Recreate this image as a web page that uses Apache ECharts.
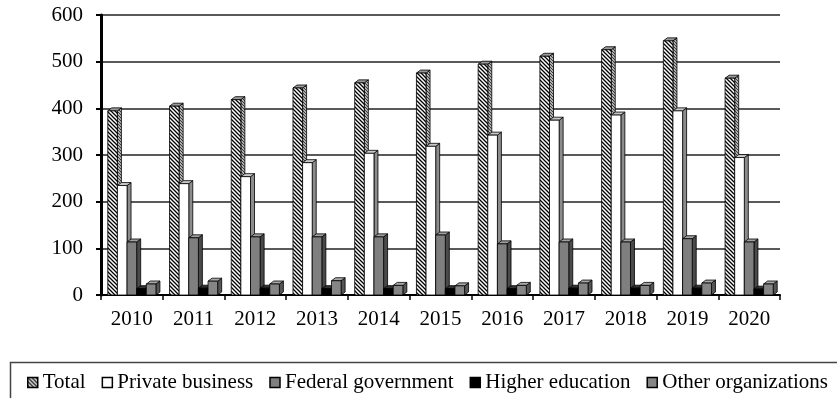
<!DOCTYPE html>
<html>
<head>
<meta charset="utf-8">
<script src="https://cdn.jsdelivr.net/npm/echarts@6/dist/echarts.min.js"></script>
<style>html,body{margin:0;padding:0;background:#fff}#c{width:837px;height:398px}</style>
</head>
<body>
<div id="c"></div>
<script>
const categories = ['2010','2011','2012','2013','2014','2015','2016','2017','2018','2019','2020'];
const totalValues = [401, 411, 425, 450, 461, 482, 501, 518, 532, 551, 471];
const privateValues = [241, 245, 260, 290, 310, 325, 349, 381, 392, 401, 301];
const federalValues = [120, 129, 131, 131, 131, 135, 116, 120, 120, 127, 120];
const higherValues = [20, 21, 21, 20, 20, 20, 20, 21, 21, 21, 19];
const otherValues = [30, 36, 30, 37, 27, 26, 27, 32, 27, 32, 30];
const seriesNames = ['Total','Private business','Federal government','Higher education','Other organizations'];
const yTicks = {min: 0, max: 600, interval: 100};

function hatchCanvas(bg, fg, size, lw) {
  const c = document.createElement('canvas');
  c.width = size; c.height = size;
  const g = c.getContext('2d');
  g.fillStyle = bg; g.fillRect(0,0,size,size);
  g.strokeStyle = fg; g.lineWidth = lw;
  g.beginPath();
  g.moveTo(-1,-1); g.lineTo(size+1,size+1);
  g.moveTo(-1,size-1); g.lineTo(1,size+1);
  g.moveTo(size-1,-1); g.lineTo(size+1,1);
  g.stroke();
  return c;
}
const totalFront = {image: hatchCanvas('#ffffff', '#000000', 4, 1.3), repeat: 'repeat'};
const totalSide = {image: hatchCanvas('#b0b0b0', '#303030', 3, 0.9), repeat: 'repeat'};

const styles = [
  {front: totalFront, side: totalSide, top: '#9a9a9a', legend: totalFront},
  {front: '#ffffff', side: '#8c8c8c', top: '#c8c8c8', legend: '#ffffff'},
  {front: '#7f7f7f', side: '#4a4a4a', top: '#a0a0a0', legend: '#7f7f7f'},
  {front: '#000000', side: '#000000', top: '#333333', legend: '#000000'},
  {front: '#858585', side: '#555555', top: '#a8a8a8', legend: '#858585'}
];
const allValues = [totalValues, privateValues, federalValues, higherValues, otherValues];

function makeSeries(idx) {
  const st = styles[idx];
  return {
    type: 'custom',
    name: seriesNames[idx],
    z: 2 + idx,
    itemStyle: {color: st.legend},
    data: allValues[idx].map((v, i) => [i, v]),
    renderItem: function (params, api) {
      const ci = api.value(0), v = api.value(1);
      const base = api.coord([ci, 0]);
      const topP = api.coord([ci, v]);
      const bw = api.size([1, 0])[0];
      const w = bw * 0.156;
      const dx = 4, dy = 3;
      const x0 = base[0] + (idx - 2.5) * w;
      const yb = base[1];
      const yt = topP[1] + dy;
      const line = {stroke: '#000', lineWidth: 0.8};
      return {
        type: 'group',
        children: [
          {type: 'polygon', shape: {points: [[x0 + w, yt], [x0 + w + dx, yt - dy], [x0 + w + dx, yb - dy], [x0 + w, yb]]},
           style: Object.assign({fill: st.side}, line)},
          {type: 'polygon', shape: {points: [[x0, yt], [x0 + dx, yt - dy], [x0 + w + dx, yt - dy], [x0 + w, yt]]},
           style: Object.assign({fill: st.top}, line)},
          {type: 'rect', shape: {x: x0, y: yt, width: w, height: yb - yt},
           style: Object.assign({fill: st.front}, line)}
        ]
      };
    }
  };
}

const chart = echarts.init(document.getElementById('c'));
const font = 'Liberation Serif';
chart.setOption({
  animation: false,
  backgroundColor: '#fff',
  grid: {left: 101, right: 57, top: 15, bottom: 103, containLabel: false},
  xAxis: {
    type: 'category',
    data: categories,
    boundaryGap: true,
    axisLine: {lineStyle: {color: '#000', width: 2}},
    axisTick: {show: true, length: 5, lineStyle: {color: '#000', width: 1.5}},
    axisLabel: {color: '#000', fontFamily: font, fontSize: 21, margin: 14},
    splitLine: {show: false}
  },
  yAxis: {
    type: 'value',
    min: yTicks.min, max: yTicks.max, interval: yTicks.interval,
    axisLine: {show: true, lineStyle: {color: '#000', width: 3}},
    axisTick: {show: true, length: 5, lineStyle: {color: '#000', width: 2}},
    axisLabel: {color: '#000', fontFamily: font, fontSize: 21, margin: 18},
    splitLine: {show: true, lineStyle: {color: '#222', width: 1.5}}
  },
  legend: {
    left: 27, top: 372, padding: 0,
    itemWidth: 10, itemHeight: 10, itemGap: 16,
    textStyle: {color: '#000', fontFamily: font, fontSize: 21},
    data: seriesNames.map((n, i) => ({name: n, icon: 'rect',
      itemStyle: {color: styles[i].legend, borderColor: '#000', borderWidth: 1.5}}))
  },
  graphic: [{
    type: 'rect', left: 8, top: 360, z: 0,
    shape: {x: 0, y: 0, width: 900, height: 100},
    style: {fill: 'none', stroke: '#444', lineWidth: 1.5}
  }],
  series: [0, 1, 2, 3, 4].map(makeSeries)
});
</script>
</body>
</html>
